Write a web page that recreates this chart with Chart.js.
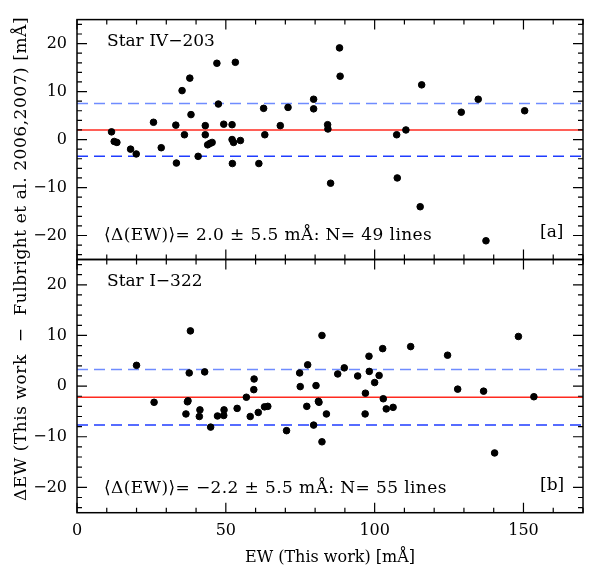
<!DOCTYPE html>
<html>
<head>
<meta charset="utf-8">
<script src="https://cdn.jsdelivr.net/npm/chart.js@4/dist/chart.umd.min.js"></script>
<style>
  html, body { margin: 0; padding: 0; background: #fff; }
  #wrap { position: relative; width: 589px; height: 572px; }
  #wrap canvas { position: absolute; left: 0; top: 0; }
</style>
</head>
<body>
<div id="wrap">
  <canvas id="panelB" width="589" height="572"></canvas>
  <canvas id="panelA" width="589" height="572"></canvas>
</div>
<script>
// Equivalent widths measured here (mÅ) and the difference to Fulbright et al. (mÅ)
const ewA  = [11.6, 12.5, 13.4, 18.0, 19.9, 25.7, 28.3, 33.2, 33.4, 35.3, 36.1, 37.9, 38.3, 40.7, 43.1, 43.1, 43.9, 44.7, 45.4, 47.0,
              47.5, 49.3, 52.1, 52.1, 52.6, 52.2, 53.2, 54.9, 61.1, 62.7, 63.1, 68.3, 70.9, 79.5, 79.5, 84.2, 84.3, 85.2, 88.2, 88.4,
              107.4, 110.5, 107.6, 115.8, 115.3, 129.1, 134.8, 137.4, 150.4];
const dEwA = [1.6, -0.4, -0.6, -2.0, -3.0, 3.6, -1.7, 3.0, -4.9, 10.2, 1.0, 12.8, 5.2, -3.5, 2.9, 1.0, -1.1, -0.8, -0.6, 15.9,
              7.4, 3.2, 3.1, 0.0, -0.6, -5.0, 16.1, -0.2, -5.0, 6.5, 1.0, 2.9, 6.7, 8.4, 6.4, 3.1, 2.2, -9.1, 19.1, 13.2,
              1.0, 2.0, -8.0, 11.4, -14.0, 5.7, 8.4, -21.1, 6.0];

const ewB  = [20.0, 25.9, 38.1, 37.7, 37.3, 37.1, 36.6, 42.9, 41.3, 41.1, 44.9, 47.2, 49.4, 49.3, 53.8, 56.9, 58.2, 59.4, 59.5, 60.9,
              63.0, 64.1, 70.4, 74.8, 77.5, 75.0, 77.2, 80.3, 81.1, 81.3, 79.5, 82.3, 82.3, 83.8, 87.6, 89.8, 94.3, 96.9, 96.8, 98.1,
              98.2, 100.0, 101.5, 102.7, 102.9, 103.9, 106.2, 112.1, 124.5, 127.9, 136.6, 140.3, 148.3, 153.5];
const dEwB = [4.1, -3.2, 10.9, 2.6, -2.9, -3.1, -5.5, 2.8, -4.7, -6.0, -8.1, -5.9, -4.7, -5.8, -4.4, -2.2, -6.0, -0.7, 1.4, -5.2,
              -4.1, -4.0, -8.8, 2.6, 4.2, -0.1, -4.0, 0.1, -3.0, -3.2, -7.7, 10.0, -11.0, -5.5, 2.4, 3.6, 2.0, -1.4, -5.5, 5.9,
              2.9, 0.7, 2.1, 7.4, -2.5, -4.5, -4.2, 7.8, 6.1, -0.6, -1.0, -13.2, 9.8, -2.1];

// Mean offset and dispersion of each star
const starNames = ['Star IV\u2212203', 'Star I\u2212322'];
const meanDiff  = [2.0, -2.2];
const sigmaDiff = [5.5, 5.5];
const nLines    = [49, 55];
const panelTags = ['[a]', '[b]'];

// Axis ranges and labelled ticks
const xRange = [0, 170];
const yRange = [-25, 25];
const xTickLabels = [0, 50, 100, 150];
const yTickLabels = [-20, -10, 0, 10, 20];

const FONT = '"DejaVu Serif", "Liberation Serif", serif';
const minus = v => String(v).replace('-', '\u2212');
const fmt1 = v => minus(v.toFixed(1));

// Frame with inward major/minor ticks on all four sides
const framePlugin = {
  id: 'frameTicks',
  afterDatasetsDraw(chart) {
    const { ctx, chartArea: a, scales: { x, y } } = chart;
    ctx.save();
    ctx.strokeStyle = '#000';
    ctx.lineWidth = 1.5;
    ctx.strokeRect(a.left, a.top, a.right - a.left, a.bottom - a.top);
    ctx.lineWidth = 1.2;
    ctx.beginPath();
    for (let v = xRange[0]; v <= xRange[1]; v += 10) {
      const px = x.getPixelForValue(v);
      const len = v % 50 === 0 ? 10 : 5;
      ctx.moveTo(px, a.bottom); ctx.lineTo(px, a.bottom - len);
      ctx.moveTo(px, a.top);    ctx.lineTo(px, a.top + len);
    }
    for (let v = yRange[0] + 1; v < yRange[1]; v += 2) {
      const py = y.getPixelForValue(v);
      const len = v % 10 === 0 ? 10 : 5;
      ctx.moveTo(a.left, py);  ctx.lineTo(a.left + len, py);
      ctx.moveTo(a.right, py); ctx.lineTo(a.right - len, py);
    }
    ctx.stroke();
    ctx.restore();
  }
};

// Star name, statistics line and panel tag
const textPlugin = {
  id: 'panelText',
  afterDraw(chart, args, opts) {
    const { ctx, chartArea: a } = chart;
    ctx.save();
    ctx.fillStyle = '#000';
    ctx.font = '17px ' + FONT;
    ctx.textBaseline = 'alphabetic';
    ctx.textAlign = 'left';
    ctx.fillText(opts.name, a.left + 30, a.top + 26.5);
    ctx.letterSpacing = '0.4px';
    ctx.fillText(opts.stat, a.left + 27, a.bottom - 20);
    ctx.letterSpacing = '0px';
    ctx.fillText(opts.tag, a.left + 463, a.bottom - 23);
    if (opts.yTitle) {
      ctx.translate(22, 259);
      ctx.rotate(-Math.PI / 2);
      ctx.textAlign = 'center';
      ctx.textBaseline = 'middle';
      ctx.letterSpacing = '0.55px';
      ctx.fillText(opts.yTitle, 0, 0);
    }
    ctx.restore();
  }
};

function panelConfig(i, ew, dEw, isBottom) {
  const m = meanDiff[i], s = sigmaDiff[i];
  const hline = (val, color, dash) => ({
    type: 'line',
    data: [{ x: xRange[0], y: val }, { x: xRange[1], y: val }],
    borderColor: color,
    borderWidth: 1.5,
    borderDash: dash,
    pointRadius: 0,
    order: 2
  });
  return {
    type: 'scatter',
    data: {
      datasets: [
        {
          data: ew.map((v, k) => ({ x: v, y: dEw[k] })),
          backgroundColor: '#000',
          borderColor: '#000',
          pointRadius: 3.3,
          pointHoverRadius: 3.3,
          order: 1
        },
        hline(m, '#ff2a1f', []),
        hline(m + s, '#6f8cff', [11, 6]),
        hline(m - s, '#1f3cff', [11, 6])
      ]
    },
    options: {
      responsive: false,
      animation: false,
      devicePixelRatio: 1,
      events: [],
      layout: { padding: isBottom ? { top: 259.5, right: 6, bottom: 0, left: 0 }
                                   : { top: 6, right: 6, bottom: 312.5, left: 0 } },
      plugins: {
        legend: { display: false },
        tooltip: { enabled: false },
        panelText: {
          name: starNames[i],
          stat: '\u27E8\u0394(EW)\u27E9= ' + fmt1(m) + ' \u00B1 ' + fmt1(s) + ' m\u00C5: N= ' + nLines[i] + ' lines',
          tag: panelTags[i],
          yTitle: isBottom ? '\u0394EW (This work  \u2212  Fulbright et al. 2006,2007) [m\u00C5]' : null
        }
      },
      scales: {
        x: {
          type: 'linear',
          min: xRange[0], max: xRange[1],
          display: isBottom,
          afterBuildTicks: sc => { sc.ticks = xTickLabels.map(v => ({ value: v })); },
          afterFit: sc => { if (isBottom) sc.height = 59.3; },
          grid: { display: false, drawTicks: false },
          border: { display: false },
          ticks: { color: '#000', font: { family: FONT, size: 16 }, padding: 9, maxRotation: 0, autoSkip: false },
          title: { display: true, text: 'EW (This work) [m\u00C5]', color: '#000',
                   font: { family: FONT, size: 16 }, padding: { top: 0, bottom: 5 } }
        },
        y: {
          type: 'linear',
          min: yRange[0], max: yRange[1],
          afterBuildTicks: sc => { sc.ticks = yTickLabels.map(v => ({ value: v })); },
          afterFit: sc => { sc.width = 77; },
          grid: { display: false, drawTicks: false },
          border: { display: false },
          ticks: { color: '#000', font: { family: FONT, size: 16 }, padding: 10, callback: v => minus(v) }
        }
      }
    },
    plugins: [framePlugin, textPlugin]
  };
}

new Chart(document.getElementById('panelA'), panelConfig(0, ewA, dEwA, false));
new Chart(document.getElementById('panelB'), panelConfig(1, ewB, dEwB, true));
</script>
</body>
</html>
